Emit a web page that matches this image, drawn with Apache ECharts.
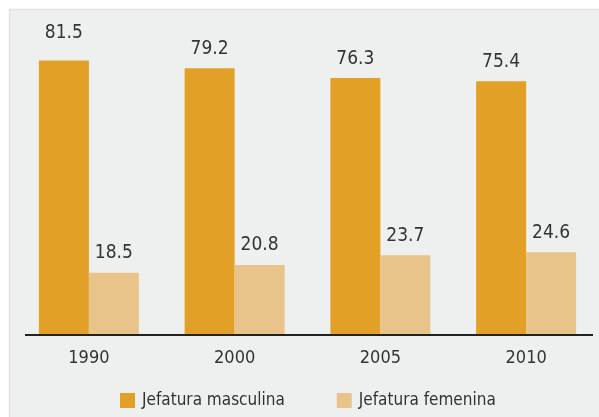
<!DOCTYPE html>
<html>
<head>
<meta charset="utf-8">
<script src="https://cdn.jsdelivr.net/npm/echarts@6/dist/echarts.min.js"></script>
<style>
  html, body { margin: 0; padding: 0; background: #ffffff; }
  #chart { width: 599px; height: 417px; }
</style>
</head>
<body>
<div id="chart"></div>
<script>
// Hogares por sexo de la jefatura (%)
const years = ['1990', '2000', '2005', '2010'];
const jefaturaMasculina = [81.5, 79.2, 76.3, 75.4];
const jefaturaFemenina = [18.5, 20.8, 23.7, 24.6];
const seriesNames = ['Jefatura masculina', 'Jefatura femenina'];

const FONT = "'Liberation Sans Narrow', 'DejaVu Sans Condensed', 'Roboto', sans-serif";
const TEXT = '#333333';

const chart = echarts.init(document.getElementById('chart'), null, { renderer: 'canvas' });

function barLabel() {
  return {
    show: true,
    position: 'top',
    distance: 10,
    color: TEXT,
    fontFamily: FONT,
    fontSize: 19,
    formatter: p => p.value.toFixed(1)
  };
}

// the tallest bar keeps its value label a little higher
const mascData = jefaturaMasculina.map((v, i) => (
  i === 0 ? { value: v, label: { distance: 18 } } : v
));

chart.setOption({
  animation: false,
  backgroundColor: '#ffffff',
  graphic: [
    {
      type: 'rect',
      z: -10,
      shape: { x: 9.5, y: 9.5, width: 620, height: 430 },
      style: { fill: '#eef0f0', stroke: '#e2e4e4', lineWidth: 1.5 }
    },
    {
      type: 'line',
      z: 10,
      shape: { x1: 25, y1: 335, x2: 593, y2: 335 },
      style: { stroke: '#222222', lineWidth: 2 }
    }
  ],
  grid: { left: 16, right: -2, top: 32, bottom: 82, containLabel: false },
  xAxis: {
    type: 'category',
    data: years,
    axisLine: { show: false },
    axisTick: { show: false },
    axisLabel: { color: TEXT, fontFamily: FONT, fontSize: 18, margin: 14 }
  },
  yAxis: {
    type: 'value',
    min: 0,
    max: 90,
    show: false,
    splitLine: { show: false }
  },
  legend: {
    left: 120,
    top: 392,
    padding: 0,
    icon: 'rect',
    itemWidth: 15,
    itemHeight: 15,
    itemGap: 52,
    textStyle: { color: TEXT, fontFamily: FONT, fontSize: 17, padding: [0, 0, 0, 2] },
    data: seriesNames
  },
  series: [
    {
      name: seriesNames[0],
      type: 'bar',
      data: mascData,
      barWidth: 50,
      barGap: '0%',
      itemStyle: { color: '#e3a027' },
      label: barLabel()
    },
    {
      name: seriesNames[1],
      type: 'bar',
      data: jefaturaFemenina,
      barWidth: 50,
      barGap: '0%',
      itemStyle: { color: '#e8c48a' },
      label: barLabel()
    }
  ]
});
</script>
</body>
</html>
